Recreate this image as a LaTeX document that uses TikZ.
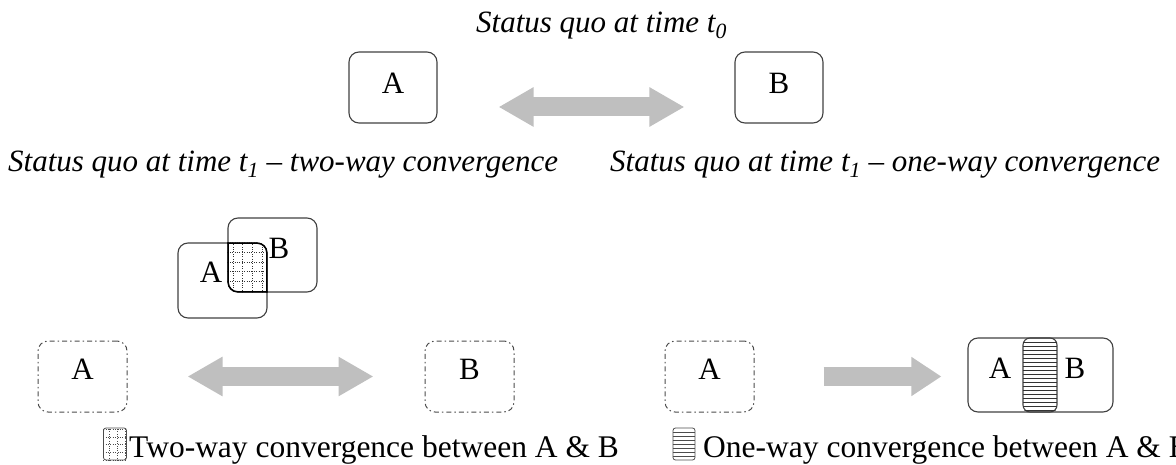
\documentclass[tikz,border=0pt]{standalone}
\usepackage{fontspec}
\setmainfont{Liberation Serif}
\usetikzlibrary{arrows.meta,positioning}

\tikzset{
  box/.style={draw=black!75,line width=1.1pt,rounded corners=10pt,minimum width=88pt,minimum height=71pt,inner sep=0pt},
  dashbox/.style={draw=black!70,line width=1pt,dash pattern=on 5pt off 3pt on 1.5pt off 3pt,rounded corners=10pt,minimum width=89pt,minimum height=71pt,inner sep=0pt},
  bigarrow/.style={draw=gray!50,line width=19pt},
  bothheads/.style={{Triangle[length=35pt,width=37pt]}-{Triangle[length=35pt,width=37pt]}},
  caption/.style={inner sep=0pt,anchor=base west,font=\fontsize{31}{36}\selectfont\itshape},
  legendtext/.style={inner sep=0pt,anchor=base west,font=\fontsize{31.5}{36}\selectfont},
  legendicon/.style={draw=black!70,line width=0.8pt,rounded corners=2.5pt,minimum width=23pt,minimum height=32pt,inner sep=0pt}
}

\begin{document}
\begin{tikzpicture}[x=1pt,y=-1pt,every node/.append style={font=\fontsize{31}{36}\selectfont}]
	\useasboundingbox (0,0) rectangle (1176,465);
	% status quo at t0
	\node[caption,anchor=base] (tzero) at (601.5,33) {Status quo at time t\textsubscript{0}};
	\node[box] (topA) at (393,87.5) {};
	\node[box] (topB) at (779,87.5) {};
	\node (labtopA) at ([yshift=4pt]topA.center) {A};
	\node (labtopB) at ([yshift=4pt]topB.center) {B};
	\draw[bigarrow,bothheads,shorten <=61pt,shorten >=50pt] ([yshift=-19.5pt]topA.east) -- ([yshift=-19.5pt]topB.west);
	% status quo at t1
	\node[caption] (tonetwo) at (8,172) {Status quo at time t\textsubscript{1} -- two-way convergence};
	\node[caption] (toneone) at (610,172) {Status quo at time t\textsubscript{1} -- one-way convergence};
	% overlapping boxes
	\node[box,minimum width=89pt,minimum height=75pt] (ovA) at (222.5,280.5) {};
	\node[box,minimum width=89pt,minimum height=74pt] (ovB) at (272.5,255) {};
	\begin{scope}
		\clip[rounded corners=10pt] (ovA.south west) rectangle (ovA.north east);
		\clip[rounded corners=10pt] (ovB.south west) rectangle (ovB.north east);
		\draw[dotted,black!80,step=9.7pt] (ovB.south west) grid (ovA.north east);
		\draw[line width=3pt,rounded corners=10pt] (ovA.south west) rectangle (ovA.north east);
		\draw[line width=3pt,rounded corners=10pt] (ovB.south west) rectangle (ovB.north east);
	\end{scope}
	\node (ovlabA) at (211,272.5) {A};
	\node (ovlabB) at (279,248.5) {B};
	% two-way convergence
	\node[dashbox] (twoA) at (82.5,376.5) {};
	\node[dashbox] (twoB) at (469.5,376.5) {};
	\node (labtwoA) at ([yshift=7pt]twoA.center) {A};
	\node (labtwoB) at ([yshift=7pt]twoB.center) {B};
	\draw[bigarrow,bothheads,shorten <=60pt,shorten >=51pt] (twoA.east) -- (twoB.west);
	% one-way convergence
	\node[dashbox] (oneA) at (709.5,376.5) {};
	\node (laboneA) at ([yshift=7pt]oneA.center) {A};
	\node[box,minimum width=145pt,minimum height=74pt] (oneAB) at (1040.5,375) {};
	\node (onelabA) at (1000,368) {A};
	\node (onelabB) at (1075,368) {B};
	\draw[bigarrow,-{Triangle[length=30pt,width=37pt]},shorten <=69pt,shorten >=26pt] (oneA.east) -- (oneA.east -| oneAB.west);
	\node[draw=black!75,line width=1.1pt,rounded corners=7pt,minimum width=34pt,minimum height=74pt,inner sep=0pt] (stripe) at (1040,375) {};
	\begin{scope}
		\clip[rounded corners=7pt] (stripe.south west) rectangle (stripe.north east);
		\foreach \y in {342,346,...,410}
			\draw[black!80,line width=0.8pt] (1023,\y) -- (1057,\y);
	\end{scope}
	% legend
	\node[legendicon] (twoicon) at (115,444) {};
	\begin{scope}
		\clip (twoicon.south west) rectangle (twoicon.north east);
		\draw[dotted,black!70,step=7.8pt] (twoicon.south west) grid (twoicon.north east);
	\end{scope}
	\node[legendtext] (twotext) at (129,457) {Two-way convergence between A \& B};
	\node[legendicon,minimum width=22pt] (oneicon) at (684,444) {};
	\foreach \y in {432,436,...,456}
		\draw[black!70,line width=0.8pt] (oneicon.west |- 0,\y) -- (oneicon.east |- 0,\y);
	\node[legendtext] (onetext) at (703,457) {One-way convergence between A \& B};
\end{tikzpicture}
\end{document}
